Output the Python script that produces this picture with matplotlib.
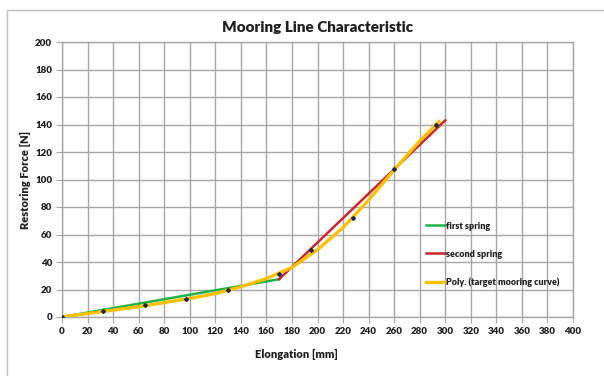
import numpy as np
import matplotlib
matplotlib.use("Agg")
import matplotlib.pyplot as plt
from matplotlib.patches import Rectangle

plt.rcParams['font.family'] = ['Lato', 'DejaVu Sans']

# measured data points (markers)
meas_x = [0, 32, 65, 97, 130, 170, 195, 228, 260, 293]
meas_y = [0, 4.5, 9, 13, 20, 31, 49, 72, 108, 140]

# first spring (linear)
spring1_x = [0, 170]
spring1_y = [0, 27.5]

# second spring (linear)
spring2_x = [170, 300]
spring2_y = [27.5, 143]

# polynomial target curve
poly_x = [0, 20, 40, 60, 80, 100, 120, 140, 160, 180, 200, 220, 240, 260, 280, 295]
poly_y = [0, 2.5, 5, 7.5, 10.5, 13.5, 17, 22, 28, 36, 49, 65, 85, 107, 128, 142]

x_ticks = list(range(0, 401, 20))
y_ticks = list(range(0, 201, 20))

W = 'heavy'

fig = plt.figure(figsize=(6.04, 3.76), dpi=100)
fig.patches.append(Rectangle((7/604, -0.1), 1.2, 1 - 10/376 + 0.1, transform=fig.transFigure,
                             fill=False, edgecolor='#c0c0c0', linewidth=1.0))

ax = fig.add_axes([62/604, 1 - 317/376, (573 - 62)/604, (317 - 42)/376])
ax.set_xlim(0, 400)
ax.set_ylim(0, 200)
ax.set_xticks(x_ticks)
ax.set_yticks(y_ticks)
ax.grid(True, color='#a6a6a6', linewidth=1.0)
ax.set_axisbelow(True)
for s in ax.spines.values():
    s.set_color('#a6a6a6')
    s.set_linewidth(1.0)
ax.tick_params(axis='both', length=4, color='#a6a6a6', labelsize=7, pad=3)
for lab in ax.get_xticklabels() + ax.get_yticklabels():
    lab.set_fontweight(W)
    lab.set_color('#202020')

ax.plot(spring1_x, spring1_y, color='#22b04a', linewidth=1.8, label='first spring', zorder=3)
ax.plot(spring2_x, spring2_y, color='#c8282c', linewidth=1.8, label='second spring', zorder=3)
ax.plot(poly_x, poly_y, color='#ffc000', linewidth=2.4, label='Poly. (target mooring curve)', zorder=4)
ax.plot(meas_x, meas_y, linestyle='none', marker='D', markersize=2.0, color='#1f2a44', zorder=5)

ax.set_title('Mooring Line Characteristic', fontsize=11, fontweight=W, pad=7, color='#202020')
ax.set_xlabel('Elongation [mm]', fontsize=8, fontweight=W, labelpad=10, color='#202020')
ax.xaxis.set_label_coords((296 - 62) / 511, -0.117)
ax.set_ylabel('Restoring Force [N]', fontsize=8, fontweight=W, labelpad=3, color='#202020')

leg = ax.legend(loc='upper left', bbox_to_anchor=(0.705, 0.36), frameon=False,
                fontsize=6.5, handlelength=2.1, handletextpad=0.1, labelspacing=2.1,
                borderaxespad=0)
for t in leg.get_texts():
    t.set_fontweight(W)
    t.set_color('#202020')

fig.savefig('out.png', dpi=100)
